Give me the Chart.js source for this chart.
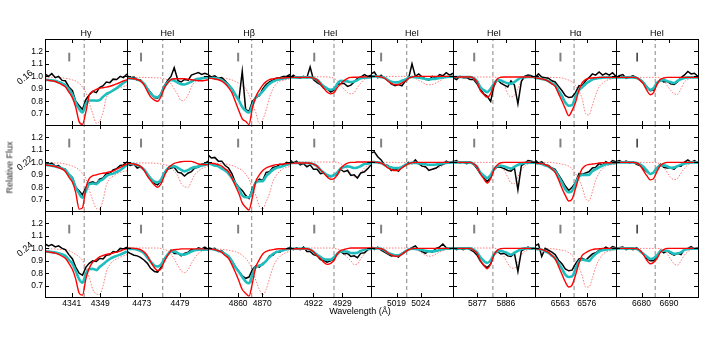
<!DOCTYPE html>
<html>
<head>
<meta charset="utf-8">
<script src="https://cdn.jsdelivr.net/npm/chart.js@4.4.1/dist/chart.umd.min.js"></script>
<style>
body { margin: 0; background: #fff; }
#fig { position: relative; width: 708px; height: 337px; overflow: hidden; font-family: "Liberation Sans", Arial, sans-serif; }
#fig canvas { position: absolute; }
.lbl { position: absolute; color: #000; white-space: nowrap; font-size: 9px; line-height: 11px; text-align: center; }
</style>
</head>
<body>
<div id="fig"></div>
<script>
const lineNames = ['Hγ', 'HeI', 'Hβ', 'HeI', 'HeI', 'HeI', 'Hα', 'HeI'];
const phases = ['0.16', '0.22', '0.24'];
const tickWaves = [[4341, 4349], [4473, 4479], [4860, 4870], [4922, 4929], [5019, 5024], [5877, 5886], [6563, 6576], [6680, 6690]];
const restWaves = [4344.5, 4476.3, 4865.6, 4927.0, 5021.1, 5881.9, 6569.8, 6685.0];
const markWaves = [4340.3, 4472.9, 4860.0, 4922.2, 5015.8, 5876.0, 6563.1, 6678.4];
const markFlux = [1.12, 1.19];
const fluxMin = 0.61, fluxMax = 1.30;
const fluxTicks = [0.7, 0.8, 0.9, 1.0, 1.1, 1.2];

// H gamma
const waveHg = [4333.5, 4334.5, 4335.4, 4336.4, 4337.3, 4338.3, 4339.2, 4340.2, 4341.2, 4342.1, 4343.1, 4344.0, 4345.0, 4345.9, 4346.9, 4347.9, 4348.8, 4349.8, 4350.7, 4351.7, 4352.6, 4353.6, 4354.6, 4355.5, 4356.5];
const obsHg = [
  [1.02, 1.0, 1.022, 0.99, 1.0, 0.968, 0.965, 0.915, 0.885, 0.80, 0.765, 0.735, 0.815, 0.85, 0.88, 0.87, 0.91, 0.925, 0.955, 0.95, 0.978, 0.975, 1.0, 0.99, 1.02],
  [1.0, 0.985, 0.995, 0.97, 0.975, 0.948, 0.945, 0.9, 0.88, 0.8, 0.77, 0.74, 0.8, 0.835, 0.845, 0.83, 0.865, 0.875, 0.91, 0.91, 0.94, 0.95, 0.975, 0.98, 1.005],
  [1.035, 1.02, 1.03, 1.012, 1.02, 1.0, 0.99, 0.95, 0.915, 0.85, 0.80, 0.785, 0.85, 0.88, 0.9, 0.895, 0.92, 0.915, 0.945, 0.95, 0.975, 0.97, 1.0, 0.995, 1.01]
];
const fitHg = [
  [0.973, 0.971, 0.968, 0.964, 0.955, 0.944, 0.93, 0.896, 0.853, 0.791, 0.738, 0.71, 0.781, 0.807, 0.807, 0.805, 0.81, 0.837, 0.858, 0.872, 0.888, 0.906, 0.928, 0.947, 0.965],
  [0.981, 0.978, 0.974, 0.967, 0.96, 0.951, 0.939, 0.905, 0.868, 0.80, 0.75, 0.716, 0.772, 0.826, 0.831, 0.826, 0.85, 0.866, 0.89, 0.904, 0.91, 0.923, 0.937, 0.958, 0.981],
  [0.976, 0.974, 0.971, 0.967, 0.961, 0.953, 0.94, 0.908, 0.876, 0.82, 0.752, 0.725, 0.80, 0.835, 0.836, 0.826, 0.85, 0.872, 0.895, 0.915, 0.929, 0.94, 0.95, 0.962, 0.976]
];
const priHg = [
  [0.973, 0.969, 0.964, 0.959, 0.947, 0.932, 0.916, 0.874, 0.826, 0.754, 0.635, 0.615, 0.72, 0.848, 0.88, 0.896, 0.905, 0.909, 0.914, 0.921, 0.929, 0.94, 0.952, 0.963, 0.973],
  [0.981, 0.976, 0.972, 0.967, 0.958, 0.948, 0.927, 0.882, 0.84, 0.76, 0.625, 0.635, 0.80, 0.87, 0.893, 0.90, 0.908, 0.913, 0.917, 0.925, 0.93, 0.945, 0.96, 0.975, 0.987],
  [0.976, 0.972, 0.967, 0.962, 0.952, 0.937, 0.92, 0.88, 0.83, 0.755, 0.64, 0.625, 0.76, 0.84, 0.89, 0.91, 0.933, 0.943, 0.951, 0.957, 0.963, 0.97, 0.978, 0.99, 0.997]
];
const secHg = [
  [0.992, 0.992, 0.992, 0.992, 0.992, 0.989, 0.984, 0.98, 0.972, 0.963, 0.944, 0.914, 0.866, 0.786, 0.70, 0.625, 0.64, 0.714, 0.829, 0.866, 0.89, 0.901, 0.91, 0.92, 0.928],
  [0.995, 0.995, 0.995, 0.995, 0.995, 0.992, 0.987, 0.98, 0.97, 0.958, 0.94, 0.91, 0.866, 0.78, 0.70, 0.63, 0.625, 0.70, 0.815, 0.87, 0.89, 0.906, 0.92, 0.928, 0.933],
  [0.997, 0.997, 0.996, 0.995, 0.993, 0.991, 0.989, 0.982, 0.968, 0.952, 0.932, 0.905, 0.84, 0.77, 0.67, 0.635, 0.63, 0.70, 0.81, 0.87, 0.9, 0.915, 0.93, 0.94, 0.95]
];

// He I 4471
const wave4471 = [4470.7, 4471.2, 4471.8, 4472.3, 4472.8, 4473.4, 4473.9, 4474.4, 4475.0, 4475.5, 4476.0, 4476.5, 4477.1, 4477.6, 4478.1, 4478.7, 4479.2, 4479.7, 4480.3, 4480.8, 4481.3, 4481.9, 4482.4, 4482.9, 4483.4];
const obs4471 = [
  [1.005, 0.99, 0.995, 0.97, 0.972, 0.94, 0.9, 0.87, 0.83, 0.825, 0.86, 0.92, 0.97, 1.0, 1.07, 0.965, 0.955, 0.975, 0.97, 1.01, 1.02, 1.03, 1.015, 1.025, 1.015],
  [0.99, 0.975, 0.985, 0.955, 0.965, 0.935, 0.91, 0.87, 0.83, 0.82, 0.85, 0.9, 0.945, 0.955, 0.96, 0.92, 0.915, 0.89, 0.915, 0.925, 0.955, 0.96, 0.985, 0.99, 1.01],
  [0.975, 0.96, 0.945, 0.94, 0.928, 0.905, 0.88, 0.84, 0.815, 0.81, 0.845, 0.9, 0.95, 0.985, 0.96, 0.96, 0.94, 0.96, 0.97, 0.99, 0.985, 1.005, 0.995, 1.01, 0.995]
];
const fit4471 = [
  [0.987, 0.984, 0.981, 0.975, 0.965, 0.94, 0.9, 0.864, 0.836, 0.833, 0.855, 0.91, 0.953, 0.972, 0.967, 0.948, 0.938, 0.935, 0.946, 0.958, 0.972, 0.981, 0.985, 0.99, 0.992],
  [0.995, 0.991, 0.987, 0.979, 0.967, 0.94, 0.905, 0.872, 0.845, 0.84, 0.858, 0.91, 0.952, 0.968, 0.968, 0.955, 0.94, 0.928, 0.94, 0.953, 0.962, 0.968, 0.975, 0.98, 0.987],
  [0.997, 0.996, 0.995, 0.99, 0.98, 0.96, 0.925, 0.893, 0.862, 0.855, 0.867, 0.91, 0.953, 0.976, 0.976, 0.962, 0.95, 0.95, 0.962, 0.975, 0.985, 0.99, 0.99, 0.99, 0.99]
];
const pri4471 = [
  [0.987, 0.984, 0.981, 0.975, 0.964, 0.93, 0.88, 0.836, 0.81, 0.80, 0.835, 0.90, 0.95, 0.975, 0.981, 0.981, 0.981, 0.981, 0.978, 0.973, 0.97, 0.965, 0.965, 0.968, 0.973],
  [0.995, 0.991, 0.987, 0.979, 0.968, 0.936, 0.89, 0.855, 0.818, 0.80, 0.825, 0.885, 0.95, 0.975, 0.992, 1.0, 1.005, 1.008, 1.008, 1.008, 1.0, 0.987, 0.983, 0.982, 0.981],
  [1.003, 1.002, 1.0, 0.998, 0.99, 0.97, 0.94, 0.893, 0.845, 0.822, 0.835, 0.89, 0.945, 0.98, 0.99, 0.992, 0.996, 0.996, 0.996, 0.996, 0.996, 0.996, 0.996, 0.996, 0.996]
];
const sec4471 = [
  [0.992, 0.992, 0.992, 0.992, 0.992, 0.992, 0.991, 0.99, 0.989, 0.988, 0.986, 0.981, 0.97, 0.94, 0.90, 0.85, 0.805, 0.81, 0.855, 0.915, 0.952, 0.965, 0.978, 0.984, 0.987],
  [0.995, 0.995, 0.995, 0.995, 0.995, 0.995, 0.995, 0.995, 0.993, 0.991, 0.987, 0.983, 0.975, 0.96, 0.93, 0.89, 0.83, 0.805, 0.80, 0.85, 0.9, 0.93, 0.95, 0.96, 0.968],
  [1.003, 1.003, 1.003, 1.003, 1.003, 1.003, 1.003, 1.003, 1.003, 1.003, 1.0, 0.992, 0.98, 0.955, 0.915, 0.86, 0.82, 0.805, 0.83, 0.88, 0.92, 0.96, 0.976, 0.985, 0.99]
];

// H beta
const waveHb = [4847.5, 4848.9, 4850.3, 4851.8, 4853.2, 4854.6, 4856.0, 4857.4, 4858.8, 4860.3, 4861.7, 4863.1, 4864.5, 4865.9, 4867.3, 4868.8, 4870.2, 4871.6, 4873.0, 4874.4, 4875.8, 4877.3, 4878.7, 4880.1, 4881.5];
const obsHb = [
  [1.015, 0.995, 1.005, 0.985, 0.99, 0.965, 0.935, 0.9, 0.85, 0.81, 1.04, 0.735, 0.72, 0.8, 0.83, 0.845, 0.9, 0.935, 0.955, 0.97, 0.985, 0.99, 1.0, 1.0, 1.015],
  [1.06, 1.035, 1.04, 1.01, 1.01, 0.975, 0.955, 0.91, 0.84, 0.8, 0.775, 0.735, 0.71, 0.79, 0.84, 0.865, 0.855, 0.92, 0.925, 0.96, 0.965, 0.985, 0.98, 1.0, 0.99],
  [1.01, 0.995, 1.0, 0.975, 0.98, 0.952, 0.94, 0.9, 0.855, 0.815, 0.78, 0.76, 0.77, 0.83, 0.86, 0.85, 0.88, 0.895, 0.94, 0.945, 0.975, 0.97, 0.99, 0.995, 1.01]
];
const fitHb = [
  [0.992, 0.989, 0.985, 0.981, 0.97, 0.95, 0.93, 0.9, 0.855, 0.807, 0.755, 0.725, 0.71, 0.77, 0.83, 0.853, 0.88, 0.913, 0.94, 0.958, 0.97, 0.978, 0.983, 0.988, 0.992],
  [0.995, 0.985, 0.975, 0.968, 0.95, 0.935, 0.91, 0.875, 0.83, 0.79, 0.735, 0.72, 0.72, 0.77, 0.84, 0.85, 0.85, 0.89, 0.915, 0.94, 0.955, 0.963, 0.97, 0.982, 0.987],
  [0.997, 0.995, 0.99, 0.98, 0.972, 0.955, 0.935, 0.898, 0.85, 0.812, 0.77, 0.735, 0.72, 0.79, 0.85, 0.862, 0.872, 0.9, 0.93, 0.955, 0.97, 0.978, 0.985, 0.993, 0.997]
];
const priHb = [
  [0.987, 0.984, 0.979, 0.973, 0.962, 0.94, 0.91, 0.87, 0.80, 0.725, 0.66, 0.64, 0.615, 0.746, 0.835, 0.89, 0.93, 0.958, 0.974, 0.98, 0.985, 0.986, 0.987, 0.99, 0.992],
  [0.995, 0.993, 0.989, 0.981, 0.97, 0.948, 0.925, 0.875, 0.815, 0.75, 0.675, 0.64, 0.618, 0.72, 0.845, 0.9, 0.935, 0.955, 0.966, 0.975, 0.982, 0.985, 0.987, 0.99, 0.992],
  [0.997, 0.995, 0.99, 0.981, 0.968, 0.943, 0.92, 0.87, 0.81, 0.74, 0.67, 0.64, 0.617, 0.72, 0.85, 0.91, 0.955, 0.975, 0.985, 0.99, 0.995, 0.997, 0.997, 0.997, 0.997]
];
const secHb = [
  [0.992, 0.992, 0.991, 0.99, 0.987, 0.984, 0.979, 0.972, 0.96, 0.945, 0.925, 0.903, 0.85, 0.78, 0.71, 0.62, 0.655, 0.73, 0.83, 0.9, 0.94, 0.96, 0.968, 0.975, 0.981],
  [0.995, 0.994, 0.993, 0.991, 0.989, 0.987, 0.982, 0.975, 0.966, 0.95, 0.937, 0.905, 0.865, 0.79, 0.735, 0.65, 0.623, 0.685, 0.75, 0.845, 0.895, 0.93, 0.95, 0.96, 0.968],
  [0.997, 0.995, 0.994, 0.993, 0.992, 0.989, 0.985, 0.979, 0.975, 0.962, 0.945, 0.92, 0.885, 0.82, 0.745, 0.67, 0.625, 0.67, 0.76, 0.845, 0.9, 0.935, 0.955, 0.968, 0.976]
];

// He I 4922
const wave4922 = [4916.3, 4917.1, 4917.9, 4918.8, 4919.6, 4920.4, 4921.2, 4922.0, 4922.9, 4923.7, 4924.5, 4925.3, 4926.2, 4927.0, 4927.8, 4928.6, 4929.4, 4930.3, 4931.1, 4931.9, 4932.7, 4933.5, 4934.4, 4935.2, 4936.0];
const obs4922 = [
  [0.985, 1.01, 0.99, 0.985, 1.0, 0.99, 1.075, 0.975, 0.95, 0.935, 0.905, 0.9, 0.875, 0.89, 0.935, 0.94, 0.945, 0.92, 0.93, 0.955, 0.985, 0.995, 1.015, 1.0, 1.01],
  [1.02, 0.995, 1.01, 0.98, 0.99, 0.965, 0.98, 0.945, 0.945, 0.91, 0.915, 0.89, 0.885, 0.9, 0.9, 0.945, 0.925, 0.935, 0.895, 0.9, 0.875, 0.915, 0.925, 0.95, 0.98],
  [1.01, 0.99, 1.005, 0.99, 1.01, 0.975, 0.975, 0.95, 0.94, 0.91, 0.905, 0.89, 0.9, 0.915, 0.96, 0.975, 0.955, 0.96, 0.935, 0.94, 0.925, 0.96, 0.965, 0.99, 1.0]
];
const fit4922 = [
  [0.992, 0.992, 0.992, 0.992, 0.992, 0.992, 0.992, 0.986, 0.972, 0.945, 0.92, 0.903, 0.893, 0.9, 0.94, 0.965, 0.962, 0.96, 0.955, 0.96, 0.97, 0.985, 0.99, 0.992, 0.992],
  [0.995, 0.995, 0.995, 0.995, 0.995, 0.995, 0.993, 0.986, 0.97, 0.94, 0.918, 0.9, 0.89, 0.896, 0.92, 0.95, 0.962, 0.968, 0.963, 0.955, 0.96, 0.97, 0.987, 0.99, 0.995],
  [0.997, 0.997, 0.997, 0.997, 0.997, 0.997, 0.99, 0.973, 0.948, 0.932, 0.915, 0.91, 0.91, 0.93, 0.955, 0.976, 0.976, 0.973, 0.963, 0.962, 0.965, 0.98, 0.99, 0.995, 0.997]
];
const pri4922 = [
  [0.992, 0.992, 0.992, 0.992, 0.992, 0.992, 0.992, 0.986, 0.972, 0.942, 0.905, 0.875, 0.86, 0.87, 0.91, 0.94, 0.965, 0.985, 0.992, 0.993, 0.994, 0.995, 0.996, 0.997, 0.997],
  [0.995, 0.995, 0.995, 0.995, 0.995, 0.995, 0.993, 0.986, 0.97, 0.94, 0.913, 0.885, 0.865, 0.87, 0.9, 0.95, 0.977, 0.994, 1.0, 1.0, 1.003, 1.003, 1.003, 1.003, 1.003],
  [0.997, 0.997, 0.997, 0.997, 0.997, 0.997, 0.99, 0.973, 0.94, 0.918, 0.89, 0.872, 0.88, 0.905, 0.955, 0.982, 0.99, 0.998, 1.003, 1.003, 1.003, 1.003, 1.003, 1.003, 1.003]
];
const sec4922 = [
  [0.997, 0.997, 0.997, 0.997, 0.997, 0.997, 0.997, 0.997, 0.997, 0.997, 0.997, 0.995, 0.993, 0.985, 0.965, 0.93, 0.9, 0.87, 0.86, 0.87, 0.91, 0.945, 0.975, 0.985, 0.992],
  [1.003, 1.003, 1.003, 1.003, 1.003, 1.003, 1.003, 1.003, 1.003, 1.003, 1.003, 1.003, 1.003, 1.003, 1.0, 0.99, 0.97, 0.945, 0.91, 0.885, 0.877, 0.91, 0.955, 0.975, 0.987],
  [1.003, 1.003, 1.003, 1.003, 1.003, 1.003, 1.003, 1.003, 1.003, 1.003, 1.003, 1.003, 1.003, 1.0, 0.995, 0.985, 0.955, 0.925, 0.9, 0.87, 0.875, 0.915, 0.955, 0.98, 0.99]
];

// He I 5015
const wave5015 = [5013.7, 5014.4, 5015.1, 5015.8, 5016.5, 5017.2, 5017.9, 5018.7, 5019.4, 5020.1, 5020.8, 5021.5, 5022.2, 5022.9, 5023.6, 5024.3, 5025.0, 5025.7, 5026.4, 5027.2, 5027.9, 5028.6, 5029.3, 5030.0, 5030.7];
const obs5015 = [
  [1.02, 1.035, 0.99, 1.01, 0.985, 0.97, 0.94, 0.925, 0.935, 0.925, 0.96, 0.985, 1.1, 1.0, 1.02, 0.995, 0.98, 0.97, 1.0, 0.985, 1.015, 1.005, 1.03, 1.01, 1.025],
  [1.075, 1.085, 1.045, 1.02, 0.98, 0.975, 0.935, 0.95, 0.93, 0.965, 0.975, 1.0, 0.99, 1.02, 0.99, 0.97, 0.965, 0.935, 0.945, 0.955, 0.975, 0.985, 1.01, 0.995, 1.01],
  [1.015, 0.99, 1.01, 0.985, 0.97, 0.955, 0.94, 0.945, 0.93, 0.96, 0.975, 0.99, 1.005, 1.02, 0.99, 0.975, 0.96, 0.98, 0.97, 1.0, 1.01, 1.035, 1.005, 0.995, 1.005]
];
const fit5015 = [
  [1.0, 1.0, 0.998, 0.995, 0.99, 0.97, 0.958, 0.952, 0.954, 0.965, 0.973, 0.99, 0.995, 0.994, 0.99, 0.986, 0.978, 0.976, 0.979, 0.982, 0.988, 0.992, 0.995, 0.997, 0.997],
  [1.003, 1.002, 1.0, 0.994, 0.98, 0.968, 0.96, 0.955, 0.955, 0.962, 0.98, 0.99, 0.997, 0.996, 0.993, 0.99, 0.985, 0.981, 0.981, 0.983, 0.988, 0.993, 0.996, 0.998, 1.0],
  [1.003, 1.0, 1.0, 0.997, 0.985, 0.965, 0.955, 0.945, 0.945, 0.955, 0.975, 0.99, 0.997, 0.995, 0.992, 0.988, 0.98, 0.976, 0.976, 0.98, 0.987, 0.993, 0.997, 1.0, 1.003]
];
const pri5015 = [
  [1.0, 1.0, 1.0, 0.995, 0.985, 0.963, 0.945, 0.933, 0.935, 0.948, 0.963, 0.985, 0.995, 1.0, 1.0, 1.0, 1.0, 1.0, 1.0, 1.0, 1.0, 1.0, 1.0, 1.0, 1.0],
  [1.003, 1.002, 1.0, 0.994, 0.978, 0.955, 0.942, 0.934, 0.937, 0.955, 0.975, 0.99, 0.998, 1.0, 1.0, 1.0, 1.0, 1.0, 1.0, 1.0, 1.0, 1.0, 1.0, 1.0, 1.0],
  [1.003, 1.002, 1.0, 0.997, 0.985, 0.963, 0.948, 0.937, 0.938, 0.953, 0.972, 0.99, 0.998, 1.0, 1.0, 1.0, 1.0, 1.0, 1.0, 1.0, 1.0, 1.0, 1.0, 1.0, 1.0]
];
const sec5015 = [
  [1.0, 1.0, 1.0, 1.0, 1.0, 1.0, 1.0, 1.0, 1.0, 1.0, 1.0, 0.998, 0.993, 0.985, 0.968, 0.955, 0.937, 0.933, 0.935, 0.948, 0.963, 0.98, 0.99, 0.995, 0.997],
  [1.0, 1.0, 1.0, 1.0, 1.0, 1.0, 1.0, 1.0, 1.0, 1.0, 1.0, 1.0, 1.0, 0.995, 0.985, 0.97, 0.958, 0.948, 0.943, 0.95, 0.96, 0.975, 0.99, 0.995, 0.997],
  [1.003, 1.003, 1.003, 1.003, 1.003, 1.003, 1.003, 1.003, 1.003, 1.003, 1.003, 1.003, 1.003, 0.993, 0.978, 0.962, 0.945, 0.937, 0.94, 0.955, 0.97, 0.982, 0.99, 0.995, 0.997]
];

// He I 5876
const wave5876 = [5869.3, 5870.4, 5871.5, 5872.5, 5873.6, 5874.7, 5875.8, 5876.9, 5877.9, 5879.0, 5880.1, 5881.2, 5882.2, 5883.3, 5884.4, 5885.5, 5886.6, 5887.6, 5888.7, 5889.8, 5890.9, 5891.9, 5893.0, 5894.1, 5895.2];
const obs5876 = [
  [0.99, 0.975, 1.0, 0.99, 0.99, 0.975, 0.975, 0.94, 0.895, 0.86, 0.84, 0.8, 0.92, 0.975, 0.945, 0.93, 0.915, 0.965, 0.93, 0.78, 0.96, 1.0, 1.01, 1.005, 0.985],
  [1.005, 1.015, 0.995, 1.005, 0.99, 1.0, 0.985, 0.95, 0.91, 0.88, 0.845, 0.88, 0.94, 0.965, 0.96, 0.95, 0.935, 0.93, 0.955, 0.78, 0.975, 0.99, 1.015, 1.01, 1.0],
  [1.005, 0.99, 1.0, 0.99, 1.005, 0.99, 0.975, 0.945, 0.9, 0.865, 0.845, 0.875, 0.95, 0.975, 0.955, 0.96, 0.94, 0.935, 0.96, 0.815, 0.98, 0.995, 1.01, 0.995, 1.005]
];
const fit5876 = [
  [0.995, 0.995, 0.995, 0.995, 0.995, 0.995, 0.986, 0.962, 0.915, 0.89, 0.874, 0.9, 0.94, 0.97, 0.967, 0.955, 0.945, 0.94, 0.955, 0.975, 0.99, 0.993, 0.995, 0.995, 0.995],
  [1.0, 1.0, 1.0, 1.0, 1.0, 1.0, 0.988, 0.965, 0.92, 0.895, 0.874, 0.898, 0.945, 0.971, 0.973, 0.967, 0.958, 0.95, 0.965, 0.98, 0.99, 0.995, 0.997, 0.997, 0.997],
  [1.0, 1.0, 1.0, 1.0, 1.0, 1.0, 0.99, 0.968, 0.93, 0.9, 0.883, 0.905, 0.95, 0.978, 0.98, 0.972, 0.96, 0.95, 0.965, 0.98, 0.995, 1.0, 1.0, 1.0, 1.0]
];
const pri5876 = [
  [0.995, 0.995, 0.995, 0.995, 0.995, 0.995, 0.985, 0.955, 0.89, 0.855, 0.832, 0.862, 0.93, 0.98, 0.993, 0.995, 0.995, 0.995, 0.995, 0.995, 0.995, 0.995, 0.995, 0.995, 0.995],
  [1.0, 1.0, 1.0, 1.0, 1.0, 1.0, 0.988, 0.965, 0.91, 0.87, 0.835, 0.87, 0.94, 0.98, 0.997, 1.0, 1.0, 1.0, 1.0, 1.0, 1.0, 1.0, 1.0, 1.0, 1.0],
  [1.0, 1.0, 1.0, 1.0, 1.0, 1.0, 0.985, 0.96, 0.905, 0.865, 0.837, 0.875, 0.945, 0.985, 0.998, 1.0, 1.0, 1.0, 1.0, 1.0, 1.0, 1.0, 1.0, 1.0, 1.0]
];
const sec5876 = [
  [0.995, 0.995, 0.995, 0.995, 0.995, 0.995, 0.995, 0.995, 0.995, 0.995, 0.995, 0.995, 0.995, 0.988, 0.965, 0.93, 0.86, 0.835, 0.85, 0.905, 0.96, 0.985, 0.992, 0.995, 0.995],
  [1.0, 1.0, 1.0, 1.0, 1.0, 1.0, 1.0, 1.0, 1.0, 1.0, 1.0, 1.0, 1.0, 0.995, 0.98, 0.935, 0.88, 0.835, 0.83, 0.885, 0.94, 0.97, 0.987, 0.993, 0.997],
  [1.003, 1.003, 1.003, 1.003, 1.003, 1.003, 1.003, 1.003, 1.003, 1.003, 1.003, 1.003, 1.003, 0.993, 0.975, 0.93, 0.88, 0.845, 0.84, 0.89, 0.945, 0.975, 0.99, 0.995, 1.0]
];

// H alpha
const waveHa = [6550.6, 6552.3, 6553.9, 6555.6, 6557.2, 6558.9, 6560.5, 6562.2, 6563.9, 6565.5, 6567.2, 6568.8, 6570.5, 6572.2, 6573.8, 6575.5, 6577.1, 6578.8, 6580.4, 6582.1, 6583.8, 6585.4, 6587.1, 6588.7, 6590.4];
const obsHa = [
  [0.99, 1.02, 0.995, 0.99, 0.985, 0.965, 0.955, 0.92, 0.885, 0.845, 0.83, 0.835, 0.87, 0.925, 0.925, 0.965, 0.99, 1.02, 1.01, 1.035, 1.01, 1.025, 1.01, 1.03, 1.0],
  [1.02, 0.995, 1.005, 0.98, 0.975, 0.955, 0.945, 0.9, 0.855, 0.81, 0.775, 0.8, 0.84, 0.91, 0.905, 0.915, 0.925, 0.955, 0.96, 0.99, 0.98, 1.005, 0.99, 1.015, 1.005],
  [1.02, 1.035, 0.935, 1.0, 0.985, 0.97, 0.95, 0.905, 0.875, 0.835, 0.82, 0.825, 0.875, 0.915, 0.92, 0.905, 0.93, 0.955, 0.965, 0.985, 0.99, 1.01, 0.995, 1.015, 1.005]
];
const fitHa = [
  [0.987, 0.985, 0.98, 0.973, 0.963, 0.945, 0.93, 0.885, 0.84, 0.79, 0.765, 0.77, 0.837, 0.888, 0.914, 0.94, 0.958, 0.975, 0.982, 0.987, 0.99, 0.991, 0.992, 0.992, 0.992],
  [0.995, 0.992, 0.988, 0.976, 0.967, 0.948, 0.93, 0.885, 0.835, 0.785, 0.76, 0.77, 0.83, 0.885, 0.9, 0.9, 0.9, 0.93, 0.945, 0.96, 0.975, 0.985, 0.99, 0.993, 0.995],
  [0.997, 0.994, 0.99, 0.976, 0.963, 0.942, 0.92, 0.88, 0.835, 0.79, 0.77, 0.775, 0.835, 0.895, 0.91, 0.905, 0.9, 0.93, 0.955, 0.975, 0.985, 0.99, 0.993, 0.995, 0.997]
];
const priHa = [
  [0.987, 0.985, 0.98, 0.973, 0.96, 0.94, 0.92, 0.86, 0.8, 0.74, 0.685, 0.725, 0.79, 0.89, 0.95, 0.975, 0.985, 0.987, 0.99, 0.992, 0.992, 0.992, 0.992, 0.992, 0.992],
  [0.995, 0.993, 0.99, 0.981, 0.97, 0.947, 0.92, 0.86, 0.79, 0.735, 0.69, 0.705, 0.79, 0.885, 0.95, 0.975, 0.983, 0.987, 0.99, 0.995, 0.997, 0.997, 0.997, 0.997, 0.997],
  [0.997, 0.995, 0.99, 0.981, 0.968, 0.943, 0.915, 0.855, 0.79, 0.73, 0.69, 0.705, 0.785, 0.88, 0.945, 0.965, 0.98, 0.99, 0.995, 0.997, 1.0, 1.0, 1.0, 1.0, 1.0]
];
const secHa = [
  [0.992, 0.992, 0.992, 0.992, 0.992, 0.992, 0.992, 0.99, 0.987, 0.98, 0.97, 0.958, 0.926, 0.88, 0.82, 0.70, 0.69, 0.77, 0.85, 0.917, 0.945, 0.965, 0.975, 0.982, 0.987],
  [1.0, 1.0, 1.0, 1.0, 1.0, 1.0, 0.995, 0.992, 0.985, 0.98, 0.97, 0.95, 0.91, 0.86, 0.8, 0.71, 0.69, 0.765, 0.855, 0.915, 0.95, 0.97, 0.977, 0.985, 0.99],
  [0.997, 0.997, 0.997, 0.997, 0.997, 0.997, 0.995, 0.99, 0.985, 0.98, 0.965, 0.945, 0.905, 0.85, 0.78, 0.69, 0.69, 0.76, 0.85, 0.91, 0.95, 0.97, 0.978, 0.985, 0.99]
];

// He I 6678
const wave6678 = [6670.7, 6671.9, 6673.2, 6674.4, 6675.7, 6676.9, 6678.2, 6679.4, 6680.7, 6681.9, 6683.2, 6684.4, 6685.7, 6686.9, 6688.1, 6689.4, 6690.6, 6691.9, 6693.1, 6694.4, 6695.6, 6696.9, 6698.1, 6699.3, 6700.6];
const obs6678 = [
  [0.99, 1.005, 1.015, 0.985, 0.995, 1.005, 0.99, 0.97, 0.95, 0.915, 0.885, 0.89, 0.94, 0.975, 0.955, 0.96, 0.94, 0.935, 0.955, 0.99, 1.01, 1.04, 1.02, 1.025, 1.0],
  [1.005, 1.015, 1.0, 1.01, 0.995, 1.005, 0.985, 0.975, 0.95, 0.925, 0.905, 0.92, 0.96, 0.985, 0.96, 0.955, 0.955, 0.945, 0.97, 0.97, 1.0, 1.02, 1.0, 1.015, 0.995],
  [0.99, 1.005, 1.01, 0.99, 1.0, 0.99, 1.005, 0.98, 0.955, 0.92, 0.9, 0.9, 0.935, 0.985, 0.965, 0.98, 0.96, 0.945, 0.96, 0.95, 0.99, 1.0, 1.015, 0.995, 1.005]
];
const fit6678 = [
  [0.992, 0.992, 0.992, 0.992, 0.992, 0.992, 0.988, 0.975, 0.95, 0.915, 0.893, 0.905, 0.95, 0.965, 0.972, 0.962, 0.955, 0.947, 0.963, 0.978, 0.988, 0.992, 0.992, 0.992, 0.992],
  [1.0, 1.0, 1.0, 1.0, 1.0, 1.0, 0.996, 0.985, 0.965, 0.935, 0.907, 0.92, 0.955, 0.976, 0.976, 0.968, 0.957, 0.958, 0.97, 0.982, 0.99, 0.995, 1.0, 1.0, 1.0],
  [1.0, 1.0, 1.0, 1.0, 1.0, 1.0, 0.997, 0.98, 0.955, 0.935, 0.915, 0.92, 0.945, 0.978, 0.981, 0.981, 0.97, 0.956, 0.96, 0.968, 0.988, 0.995, 0.997, 0.997, 0.997]
];
const pri6678 = [
  [0.992, 0.992, 0.992, 0.992, 0.992, 0.992, 0.99, 0.97, 0.94, 0.89, 0.853, 0.87, 0.94, 0.975, 0.987, 0.992, 0.992, 0.992, 0.992, 0.992, 0.992, 0.992, 0.992, 0.992, 0.992],
  [1.0, 1.0, 1.0, 1.0, 1.0, 1.0, 0.995, 0.978, 0.935, 0.895, 0.86, 0.87, 0.93, 0.975, 0.993, 1.0, 1.0, 1.0, 1.0, 1.0, 1.0, 1.0, 1.0, 1.0, 1.0],
  [1.0, 1.0, 1.0, 1.0, 1.0, 1.0, 0.998, 0.985, 0.95, 0.905, 0.877, 0.888, 0.92, 0.968, 0.99, 1.0, 1.0, 1.0, 1.0, 1.0, 1.0, 1.0, 1.0, 1.0, 1.0]
];
const sec6678 = [
  [0.992, 0.992, 0.992, 0.992, 0.992, 0.992, 0.992, 0.992, 0.992, 0.992, 0.992, 0.992, 0.992, 0.985, 0.97, 0.925, 0.89, 0.86, 0.855, 0.9, 0.955, 0.975, 0.987, 0.99, 0.992],
  [1.0, 1.0, 1.0, 1.0, 1.0, 1.0, 1.0, 1.0, 1.0, 1.0, 1.0, 1.0, 0.998, 0.983, 0.96, 0.92, 0.88, 0.862, 0.87, 0.915, 0.95, 0.98, 0.99, 0.995, 0.997],
  [1.0, 1.0, 1.0, 1.0, 1.0, 1.0, 1.0, 1.0, 1.0, 1.0, 1.0, 1.0, 1.0, 0.998, 0.985, 0.955, 0.915, 0.875, 0.865, 0.9, 0.945, 0.975, 0.99, 0.995, 0.997]
];

const columns = [
  { wave: waveHg, obs: obsHg, fit: fitHg, pri: priHg, sec: secHg },
  { wave: wave4471, obs: obs4471, fit: fit4471, pri: pri4471, sec: sec4471 },
  { wave: waveHb, obs: obsHb, fit: fitHb, pri: priHb, sec: secHb },
  { wave: wave4922, obs: obs4922, fit: fit4922, pri: pri4922, sec: sec4922 },
  { wave: wave5015, obs: obs5015, fit: fit5015, pri: pri5015, sec: sec5015 },
  { wave: wave5876, obs: obs5876, fit: fit5876, pri: pri5876, sec: sec5876 },
  { wave: waveHa, obs: obsHa, fit: fitHa, pri: priHa, sec: secHa },
  { wave: wave6678, obs: obs6678, fit: fit6678, pri: pri6678, sec: sec6678 }
];

// panel geometry in page pixels
const panelLeft = [45, 127, 208, 290, 371, 453, 535, 616];
const panelWidth = [82, 81, 82, 81, 82, 82, 81, 82];
const rowTop = [39, 125, 211];
const panelHeight = 86;
// padT is larger than half a tick label so the y labels never push the plot area down
const padL = 45, padR = 10, padT = 10, padB = 30;

Chart.defaults.font.family = '"Liberation Sans", Arial, sans-serif';
Chart.defaults.font.size = 8.5;
Chart.defaults.color = '#000';

// box and inward ticks on all four sides, like the matplotlib frame
const frame = {
  id: 'frame',
  afterDatasetsDraw(chart) {
    const { ctx, chartArea: a, scales: { x, y } } = chart;
    ctx.save();
    ctx.strokeStyle = '#000';
    ctx.lineWidth = 1;
    ctx.beginPath();
    x.ticks.forEach(t => {
      const px = Math.round(x.getPixelForValue(t.value)) + 0.5;
      ctx.moveTo(px, a.bottom); ctx.lineTo(px, a.bottom - 4);
      ctx.moveTo(px, a.top); ctx.lineTo(px, a.top + 4);
    });
    y.ticks.forEach(t => {
      const py = Math.round(y.getPixelForValue(t.value)) + 0.5;
      ctx.moveTo(a.left, py); ctx.lineTo(a.left + 4, py);
      ctx.moveTo(a.right, py); ctx.lineTo(a.right - 4, py);
    });
    ctx.stroke();
    ctx.strokeRect(Math.round(a.left) + 0.5, Math.round(a.top) + 0.5, Math.round(a.right - a.left), Math.round(a.bottom - a.top));
    ctx.restore();
  }
};

function pts(wave, vals) {
  return wave.map((w, i) => ({ x: w, y: vals[i] }));
}

const fig = document.getElementById('fig');

for (let r = 0; r < 3; r++) {
  for (let c = 0; c < 8; c++) {
    const col = columns[c];
    const canvas = document.createElement('canvas');
    canvas.width = padL + panelWidth[c] + padR;
    canvas.height = padT + panelHeight + padB;
    canvas.style.left = (panelLeft[c] - padL) + 'px';
    canvas.style.top = (rowTop[r] - padT) + 'px';
    fig.appendChild(canvas);

    new Chart(canvas.getContext('2d'), {
      type: 'line',
      data: {
        datasets: [
          { data: pts(col.wave, col.pri[r]), borderColor: '#ff0000', borderWidth: 1.4, cubicInterpolationMode: 'monotone', order: 1 },
          { data: pts(col.wave, col.fit[r]), borderColor: '#1fbdbd', borderWidth: 2.6, cubicInterpolationMode: 'monotone', order: 2 },
          { data: pts(col.wave, col.obs[r]), borderColor: '#000', borderWidth: 1.5, order: 3 },
          { data: pts(col.wave, col.sec[r]), borderColor: 'rgba(255,90,90,0.8)', borderWidth: 1, borderDash: [1.5, 1.5], cubicInterpolationMode: 'monotone', order: 4 },
          { data: [{ x: restWaves[c], y: fluxMin }, { x: restWaves[c], y: fluxMax }], borderColor: '#9a9a9a', borderWidth: 1.2, borderDash: [4, 3], order: 5 },
          { data: [{ x: markWaves[c], y: markFlux[0] }, { x: markWaves[c], y: markFlux[1] }], borderColor: c === 7 ? '#000' : '#808080', borderWidth: c === 7 ? 1.2 : 2, order: 0 }
        ]
      },
      options: {
        responsive: false,
        devicePixelRatio: 1,
        animation: false,
        events: [],
        layout: { padding: { left: 0, right: padR, top: padT, bottom: 0 } },
        elements: { point: { radius: 0 }, line: { tension: 0 } },
        plugins: { legend: { display: false }, tooltip: { enabled: false } },
        scales: {
          x: {
            type: 'linear',
            min: col.wave[0],
            max: col.wave[col.wave.length - 1],
            afterBuildTicks: s => { s.ticks = tickWaves[c].map(v => ({ value: v })); },
            afterFit: s => { s.height = padB; },
            grid: { display: false, drawTicks: false },
            border: { display: false },
            ticks: { display: r === 2, autoSkip: false, maxRotation: 0, padding: 2, callback: v => String(v) }
          },
          y: {
            min: fluxMin,
            max: fluxMax,
            afterBuildTicks: s => { s.ticks = fluxTicks.map(v => ({ value: v })); },
            afterFit: s => { s.width = padL; },
            grid: { display: false, drawTicks: false },
            border: { display: false },
            ticks: { display: c === 0, padding: 2, callback: v => v.toFixed(1) }
          }
        }
      },
      plugins: [frame]
    });
  }
}

function addLabel(text, left, top, width, extra) {
  const d = document.createElement('div');
  d.className = 'lbl';
  d.textContent = text;
  d.style.left = left + 'px';
  d.style.top = top + 'px';
  d.style.width = width + 'px';
  if (extra) Object.assign(d.style, extra);
  fig.appendChild(d);
}

lineNames.forEach((name, c) => addLabel(name, panelLeft[c], 28, panelWidth[c]));
phases.forEach((p, r) => addLabel(p, 13, rowTop[r] + 33, 24, { transform: 'rotate(-40deg)' }));
addLabel('Relative Flux', -30, 162, 80, { transform: 'rotate(-90deg)', color: '#222' });
addLabel('Wavelength (Å)', 310, 306, 100);
</script>
</body>
</html>
